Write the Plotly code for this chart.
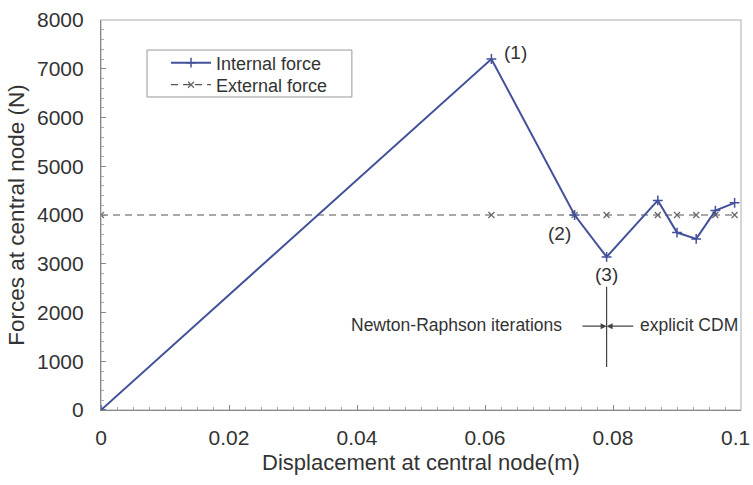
import plotly.graph_objects as go

# Data
internal_x = [0.0, 0.061, 0.074, 0.079, 0.087, 0.090, 0.093, 0.096, 0.099]
internal_y = [0, 7200, 4000, 3140, 4300, 3640, 3510, 4090, 4250]
external_x = [0.0, 0.061, 0.074, 0.079, 0.087, 0.090, 0.093, 0.096, 0.099]
external_y = [4000, 4000, 4000, 4000, 4000, 4000, 4000, 4000, 4000]
x_ticks = [0, 0.02, 0.04, 0.06, 0.08, 0.1]
x_tick_labels = ["0", "0.02", "0.04", "0.06", "0.08", "0.1"]
y_ticks = [0, 1000, 2000, 3000, 4000, 5000, 6000, 7000, 8000]
point_labels = ["(1)", "(2)", "(3)"]
point_label_x = [0.0647, 0.0716, 0.079]
point_label_y = [7330, 3620, 2780]
split_x = 0.079
split_y = [880, 2530]

FONT = "Liberation Sans, Arial, sans-serif"
TXT = "#333333"

fig = go.Figure()
fig.add_trace(go.Scatter(
    x=external_x, y=external_y, mode="lines+markers", name="External force",
    line=dict(color="#555555", width=1.2, dash="7px,5px"),
    marker=dict(symbol="x-thin", size=6, line=dict(color="#666666", width=1.2)),
    legend="legend2",
))
fig.add_trace(go.Scatter(
    x=internal_x, y=internal_y, mode="lines+markers", name="Internal force",
    line=dict(color="#43519a", width=2),
    marker=dict(symbol="cross-thin", size=7, line=dict(color="#43519a", width=1.5)),
    legend="legend",
))

for t, xx, yy in zip(point_labels, point_label_x, point_label_y):
    fig.add_annotation(x=xx, y=yy, text=t, showarrow=False,
                       font=dict(family=FONT, size=19, color=TXT))

# vertical split line
fig.add_trace(go.Scatter(x=[split_x, split_x], y=split_y, mode="lines",
                         line=dict(color="#444444", width=1.2),
                         showlegend=False, hoverinfo="skip"))

arrow_y = 1720
fig.add_annotation(x=split_x, y=arrow_y, ax=0.0750, ay=arrow_y, axref="x", ayref="y",
                   showarrow=True, arrowhead=2, arrowsize=1, arrowwidth=1.2,
                   arrowcolor="#444444", text="", standoff=0, startstandoff=0)
fig.add_annotation(x=split_x, y=arrow_y, ax=0.0834, ay=arrow_y, axref="x", ayref="y",
                   showarrow=True, arrowhead=2, arrowsize=1, arrowwidth=1.2,
                   arrowcolor="#444444", text="", standoff=0, startstandoff=0)
fig.add_annotation(x=0.0555, y=1740, text="Newton-Raphson iterations", showarrow=False,
                   font=dict(family=FONT, size=17.5, color=TXT))
fig.add_annotation(x=0.0918, y=1740, text="explicit CDM", showarrow=False,
                   font=dict(family=FONT, size=17.5, color=TXT))

# last x tick label, placed so it stays inside the page
fig.add_annotation(x=x_ticks[-1], xref="x", y=0, yref="paper", text=x_tick_labels[-1],
                   showarrow=False, xanchor="right", yanchor="middle",
                   xshift=11, yshift=-27, font=dict(family=FONT, size=21, color=TXT))

# plot frame
fig.add_shape(type="rect", xref="paper", yref="paper", x0=0, y0=0, x1=1, y1=1,
              line=dict(color="#c8c8c8", width=1.5), layer="below")
# legend box
fig.add_shape(type="rect", xref="paper", yref="paper", x0=0.0719, y0=0.8026, x1=0.392, y1=0.923,
              line=dict(color="#999999", width=1), fillcolor="white", layer="below")

leg_common = dict(xanchor="left", yanchor="middle", bgcolor="rgba(0,0,0,0)", borderwidth=0,
                  font=dict(family=FONT, size=18, color=TXT), itemwidth=40)

fig.update_layout(
    width=753, height=485,
    margin=dict(l=101, r=12, t=20, b=75, autoexpand=False),
    paper_bgcolor="white", plot_bgcolor="white",
    font=dict(family=FONT, color=TXT),
    legend=dict(x=0.1016, y=0.8897, **leg_common),
    legend2=dict(x=0.1016, y=0.8333, **leg_common),
    xaxis=dict(range=[0, 0.1000001], tickvals=x_ticks,
               ticktext=x_tick_labels[:-1] + [""],
               showgrid=False, zeroline=False, showline=True, automargin=False,
               linecolor="#888888", linewidth=1.2,
               ticks="inside", ticklen=5, tickcolor="#888888",
               ticklabelstandoff=9,
               minor=dict(dtick=0.0025, ticks="inside", ticklen=3, tickcolor="#aaaaaa"),
               tickfont=dict(family=FONT, size=21, color=TXT),
               title=dict(text="Displacement at central node(m)",
                          font=dict(family=FONT, size=22, color=TXT), standoff=6)),
    yaxis=dict(range=[0, 8000], tickvals=y_ticks, automargin=False,
               showgrid=False, zeroline=False, showline=True,
               linecolor="#888888", linewidth=1.2,
               ticks="inside", ticklen=5, tickcolor="#888888",
               ticklabelstandoff=12,
               minor=dict(dtick=200, ticks="inside", ticklen=3, tickcolor="#aaaaaa"),
               tickfont=dict(family=FONT, size=21, color=TXT),
               title=dict(text="Forces at central node (N)",
                          font=dict(family=FONT, size=22.5, color=TXT), standoff=6)),
)

fig.write_html("out.html")
